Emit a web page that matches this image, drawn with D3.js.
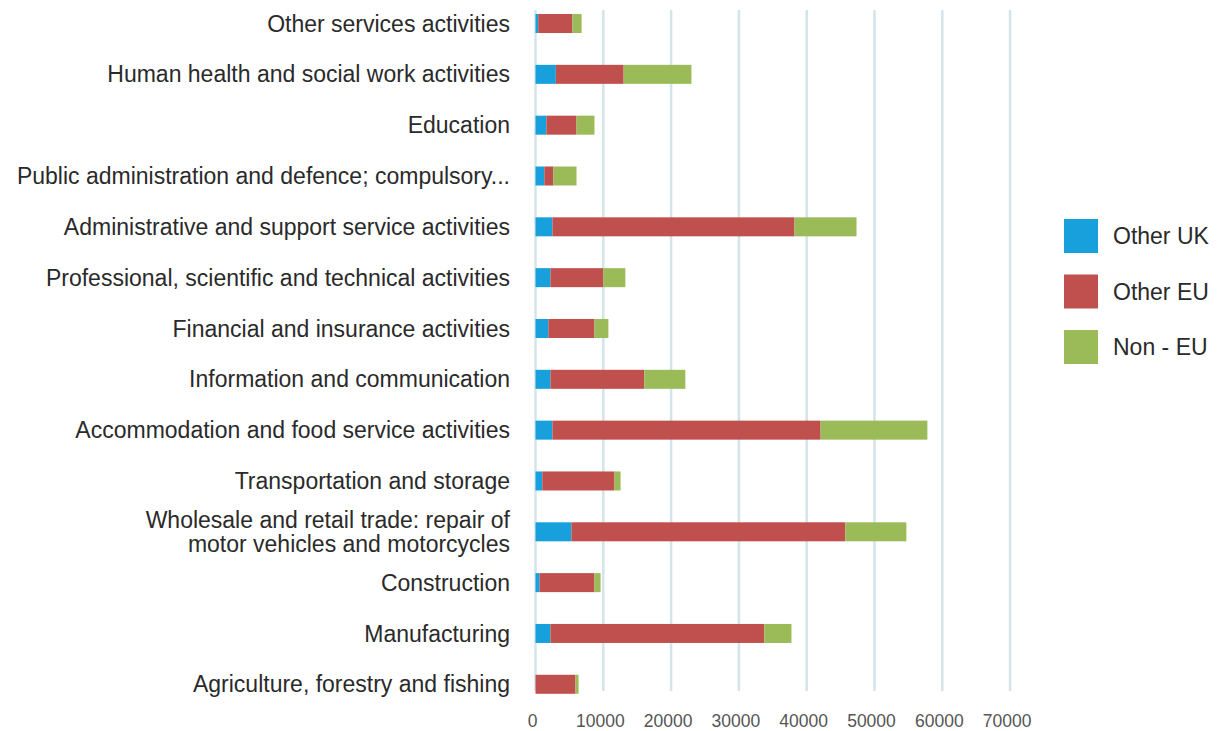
<!DOCTYPE html>
<html>
<head>
<meta charset="utf-8">
<script src="https://cdn.jsdelivr.net/npm/d3@7"></script>
<style>
  html, body { margin: 0; padding: 0; background: #ffffff; }
  svg { display: block; }
  text { font-family: "Liberation Sans", Arial, sans-serif; }
</style>
</head>
<body>
<svg id="chart" width="1217" height="731"></svg>
<script>
// Industry sectors, listed top to bottom
const categories = [
  "Other services activities",
  "Human health and social work activities",
  "Education",
  "Public administration and defence; compulsory...",
  "Administrative and support service activities",
  "Professional, scientific and technical activities",
  "Financial and insurance activities",
  "Information and communication",
  "Accommodation and food service activities",
  "Transportation and storage",
  "Wholesale and retail trade: repair of\nmotor vehicles and motorcycles",
  "Construction",
  "Manufacturing",
  "Agriculture, forestry and fishing"
];

const seriesNames = ["Other UK", "Other EU", "Non - EU"];

const otherUK  = [400, 3000, 1600, 1300, 2500, 2200, 1900, 2200, 2500, 1000, 5300, 600, 2200, 0];
const otherEU  = [5050, 10000, 4450, 1350, 35700, 7800, 6800, 13850, 39550, 10650, 40400, 8100, 31550, 5900];
const nonEU    = [1350, 10000, 2650, 3400, 9150, 3250, 2050, 6050, 15750, 900, 9000, 900, 4000, 450];

const tickValues = [0, 10000, 20000, 30000, 40000, 50000, 60000, 70000];

const colors = ["#17a0db", "#c0504d", "#9bbb59"];

const svg = d3.select("#chart");

const x = d3.scaleLinear().domain([0, 70000]).range([535.5, 1010.1]);
const y = d3.scaleBand()
  .domain(categories)
  .range([-1.9, 709.7])
  .paddingInner(0.626)
  .paddingOuter(0.313);

// Vertical gridlines
svg.append("g")
  .selectAll("line")
  .data(tickValues)
  .join("line")
  .attr("x1", d => x(d))
  .attr("x2", d => x(d))
  .attr("y1", 10)
  .attr("y2", 691)
  .attr("stroke", "#d3e5ea")
  .attr("stroke-width", 2.5);

// Tick labels along the bottom
svg.append("g")
  .selectAll("text")
  .data(tickValues)
  .join("text")
  .attr("x", d => x(d) - 3)
  .attr("y", 720.5)
  .attr("dy", "0.35em")
  .attr("text-anchor", "middle")
  .attr("font-size", 17.5)
  .attr("fill", "#555")
  .text(d => d);

// Stack the three origin groups
const rows = categories.map((c, i) => ({
  category: c,
  "Other UK": otherUK[i],
  "Other EU": otherEU[i],
  "Non - EU": nonEU[i]
}));
const stacked = d3.stack().keys(seriesNames)(rows);

svg.append("g")
  .selectAll("g")
  .data(stacked)
  .join("g")
  .attr("fill", (d, i) => colors[i])
  .selectAll("rect")
  .data(d => d)
  .join("rect")
  .attr("x", d => x(d[0]))
  .attr("y", d => y(d.data.category))
  .attr("width", d => x(d[1]) - x(d[0]))
  .attr("height", y.bandwidth());

// Category labels (right-aligned, multi-line where needed)
const labels = svg.append("g")
  .selectAll("text")
  .data(categories)
  .join("text")
  .attr("text-anchor", "end")
  .attr("font-size", 23)
  .attr("fill", "#2a2a2a");

labels.each(function (d) {
  const lines = d.split("\n");
  const cy = y(d) + y.bandwidth() / 2;
  const lh = 24;
  const t = d3.select(this);
  lines.forEach((ln, k) => {
    t.append("tspan")
      .attr("x", 510)
      .attr("y", cy + (k - (lines.length - 1) / 2) * lh)
      .attr("dy", "0.35em")
      .text(ln);
  });
});

// Legend
const legend = svg.append("g")
  .selectAll("g")
  .data(seriesNames)
  .join("g")
  .attr("transform", (d, i) => `translate(1064, ${219 + i * 55.5})`);

legend.append("rect")
  .attr("width", 34)
  .attr("height", 34)
  .attr("fill", (d, i) => colors[i]);

legend.append("text")
  .attr("x", 49)
  .attr("y", 17)
  .attr("dy", "0.35em")
  .attr("font-size", 23)
  .attr("fill", "#2a2a2a")
  .text(d => d);
</script>
</body>
</html>
